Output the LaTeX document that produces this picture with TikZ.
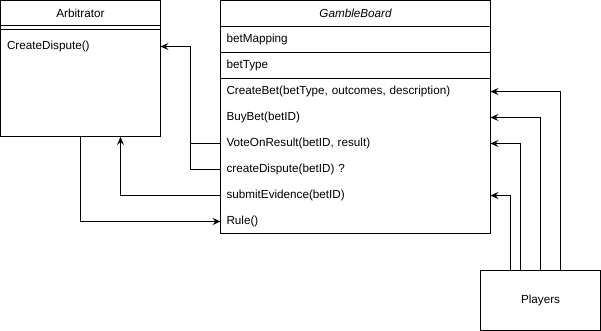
\documentclass[tikz,border=0pt]{standalone}
\usepackage{fontspec}
\setmainfont{Liberation Sans}
\usetikzlibrary{arrows.meta}
\begin{document}
\begin{tikzpicture}[x=1pt,y=-1pt,
  line width=1pt,
  every node/.style={font=\fontsize{11.7}{14}\selectfont, inner sep=0pt, outer sep=0pt},
  box/.style={draw, anchor=north west},
  row/.style={anchor=north west, minimum width=270pt, minimum height=26pt,
              text width=258pt, inner xsep=6pt, align=left},
  arr/.style={-{Stealth[length=8pt,width=7pt,inset=3pt]}},
  link/.style={line cap=rect}]
\useasboundingbox (0,0) rectangle (601,331);

% Arbitrator class
\node[box, minimum width=160pt, minimum height=136.5pt] (arb) at (0.5,0.5) {};
\node (arbtitle) at (80.5,13.5) {Arbitrator};
\draw (arb.west |- 0,26) -- (arb.east |- 0,26);
\draw (arb.west |- 0,30) -- (arb.east |- 0,30);
\node[anchor=west] (arbm) at (7,46) {CreateDispute()};

% GambleBoard class
\node[box, minimum width=270pt, minimum height=233pt] (gb) at (220.5,0.5) {};
\node (gbtitle) at (355.5,13.5) {\itshape GambleBoard};
\node[row] (bmap)  at (220.5,26.5)  {betMapping};
\node[row] (btype) at (220.5,52.5)  {betType};
\node[row] (cbet)  at (220.5,78.5)  {CreateBet(betType, outcomes, description)};
\node[row] (buy)   at (220.5,104.5) {BuyBet(betID)};
\node[row] (vote)  at (220.5,130.5) {VoteOnResult(betID, result)};
\node[row] (cdis)  at (220.5,156.5) {createDispute(betID) ?};
\node[row] (subev) at (220.5,182.5) {submitEvidence(betID)};
\node[row] (rule)  at (220.5,208.5) {Rule()};
\draw (bmap.north west) -- (bmap.north east);
\draw (btype.north west) -- (btype.north east);
\draw (cbet.north west) -- (cbet.north east);

% Players
\node[box, minimum width=120pt, minimum height=60pt] (pl) at (480.5,270.5) {Players};

% GambleBoard -> Arbitrator
\coordinate (jA) at (190.5,46.5);
\draw[arr] (vote.west) -| (jA) -- (jA -| arb.east);
\draw (cdis.west) -- (cdis.west -| jA) -- (vote.west -| jA);
\draw[arr] (subev.west) -| ([xshift=40pt]arb.south);
\draw[arr] (arb.south) |- (rule.west);

% Players -> GambleBoard
\draw[arr] ([xshift=20pt]pl.north) |- (cbet.east);
\draw[arr] (pl.north) |- (buy.east);
\draw[arr] ([xshift=-20pt]pl.north) |- (vote.east);
\draw[arr] ([xshift=-30pt]pl.north) |- (subev.east);
\end{tikzpicture}
\end{document}
